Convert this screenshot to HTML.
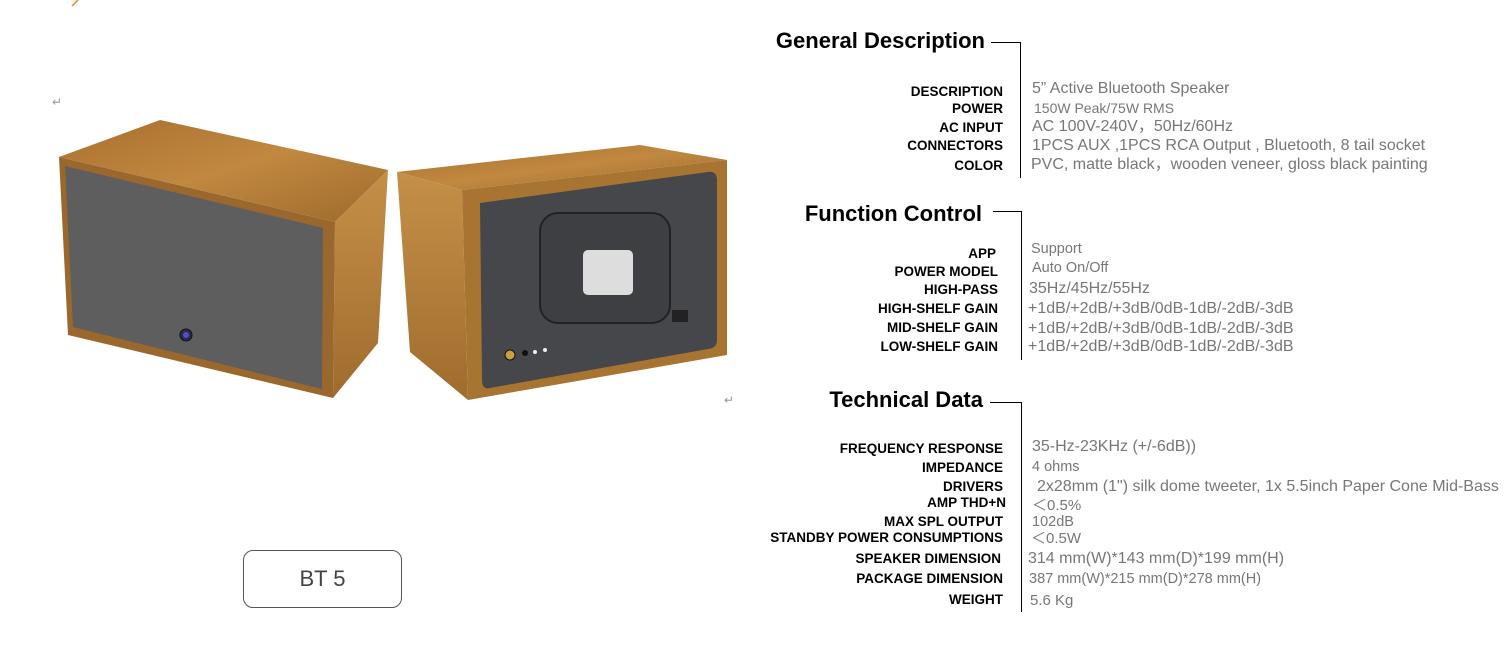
<!DOCTYPE html>
<html><head><meta charset="utf-8"><style>
body{margin:0;width:1507px;height:663px;background:#fff;position:relative;overflow:hidden;font-family:"Liberation Sans",sans-serif}
.h{position:absolute;width:985px;left:0;text-align:right;font-weight:bold;font-size:22px;color:#000;white-space:nowrap;line-height:24px}
.l{position:absolute;left:0;width:1003px;text-align:right;font-weight:bold;font-size:13.5px;color:#000;white-space:nowrap;line-height:16px}
.v{position:absolute;font-size:16px;color:#777;white-space:nowrap;line-height:16px}
.ln{position:absolute;background:#000}
</style></head><body>
<svg width="740" height="420" style="position:absolute;left:0;top:0">
<defs>
<linearGradient id="w1" x1="0" y1="0" x2="1" y2="1"><stop offset="0" stop-color="#a8702e"/><stop offset="0.5" stop-color="#c08840"/><stop offset="1" stop-color="#9e6a2c"/></linearGradient>
<linearGradient id="w2" x1="0" y1="0" x2="0" y2="1"><stop offset="0" stop-color="#c49048"/><stop offset="1" stop-color="#a06c2e"/></linearGradient>
</defs>
<line x1="72" y1="6" x2="78" y2="0" stroke="#f08030" stroke-width="1.5"/>
<text x="52" y="106" font-size="12" fill="#999">↵</text>
<text x="724" y="404" font-size="12" fill="#999">↵</text>
<polygon points="59,157 160,120 388,170 335,222" fill="url(#w1)"/>
<polygon points="335,222 388,170 378,343 333,398" fill="url(#w2)"/>
<polygon points="59,157 335,222 333,398 68,335" fill="#9a682c"/>
<polygon points="65,166 323,228 322,389 73,327" fill="#5e5e5e"/>
<circle cx="186" cy="335" r="6" fill="#2a2a4a" stroke="#111"/>
<circle cx="186" cy="335" r="3" fill="#5050c0"/>
<polygon points="397,172 640,145 727,160 462,190" fill="url(#w1)"/>
<polygon points="397,172 462,190 468,400 410,352" fill="url(#w2)"/>
<polygon points="462,190 727,160 727,355 468,400" fill="#a87432"/>
<path d="M480,203 L708,172 Q717,171 717,180 L717,340 Q717,348 708,349 L490,388 Q482,390 482,380 Z" fill="#45474b"/>
<rect x="540" y="213" width="130" height="110" rx="18" fill="#3d3f43" stroke="#222" stroke-width="2"/>
<rect x="583" y="250" width="50" height="45" rx="5" fill="#ddd"/>
<circle cx="510" cy="355" r="5" fill="#c8a040" stroke="#111"/>
<circle cx="525" cy="353" r="3" fill="#111"/>
<circle cx="535" cy="352" r="2" fill="#eee"/>
<circle cx="545" cy="350" r="2" fill="#eee"/>
<rect x="672" y="310" width="16" height="12" fill="#222"/>
</svg>
<div style="position:absolute;left:243px;top:550px;width:157px;height:56px;border:1px solid #555;border-radius:10px;text-align:center;line-height:56px;font-size:22px;color:#444">BT 5</div>

<div class="h" style="top:29px">General Description</div>
<div class="ln" style="left:991px;top:42px;width:30px;height:1px"></div>
<div class="ln" style="left:1020px;top:42px;width:1px;height:136px"></div>
<div class="l" style="top:84px">DESCRIPTION</div><div class="v" style="left:1032px;top:81px">5” Active Bluetooth Speaker</div>
<div class="l" style="top:101px">POWER</div><div class="v" style="left:1034px;top:100px;font-size:14px">150W Peak/75W RMS</div>
<div class="l" style="top:120px">AC INPUT</div><div class="v" style="left:1032px;top:119px">AC 100V-240V，50Hz/60Hz</div>
<div class="l" style="top:138px">CONNECTORS</div><div class="v" style="left:1032px;top:138px">1PCS AUX ,1PCS RCA Output , Bluetooth, 8 tail socket</div>
<div class="l" style="top:158px">COLOR</div><div class="v" style="left:1031px;top:157px">PVC, matte black，wooden veneer, gloss black painting</div>

<div class="h" style="top:202px;width:982px">Function Control</div>
<div class="ln" style="left:993px;top:211px;width:29px;height:1px"></div>
<div class="ln" style="left:1021px;top:211px;width:1px;height:149px"></div>
<div class="l" style="top:246px;width:996px">APP</div><div class="v" style="left:1031px;top:241px;font-size:14.5px">Support</div>
<div class="l" style="top:264px;width:998px">POWER MODEL</div><div class="v" style="left:1032px;top:260px;font-size:14.5px">Auto On/Off</div>
<div class="l" style="top:282px;width:998px">HIGH-PASS</div><div class="v" style="left:1029px;top:281px">35Hz/45Hz/55Hz</div>
<div class="l" style="top:301px;width:998px">HIGH-SHELF GAIN</div><div class="v" style="left:1028px;top:301px">+1dB/+2dB/+3dB/0dB-1dB/-2dB/-3dB</div>
<div class="l" style="top:320px;width:998px">MID-SHELF GAIN</div><div class="v" style="left:1028px;top:321px">+1dB/+2dB/+3dB/0dB-1dB/-2dB/-3dB</div>
<div class="l" style="top:339px;width:998px">LOW-SHELF GAIN</div><div class="v" style="left:1028px;top:339px">+1dB/+2dB/+3dB/0dB-1dB/-2dB/-3dB</div>

<div class="h" style="top:388px;width:983px">Technical Data</div>
<div class="ln" style="left:990px;top:402px;width:32px;height:1px"></div>
<div class="ln" style="left:1021px;top:402px;width:1px;height:210px"></div>
<div class="l" style="top:441px">FREQUENCY RESPONSE</div><div class="v" style="left:1032px;top:439px">35-Hz-23KHz (+/-6dB))</div>
<div class="l" style="top:460px">IMPEDANCE</div><div class="v" style="left:1032px;top:459px;font-size:14.5px">4 ohms</div>
<div class="l" style="top:479px">DRIVERS</div><div class="v" style="left:1037px;top:479px">2x28mm (1") silk dome tweeter, 1x 5.5inch Paper Cone Mid-Bass</div>
<div class="l" style="top:495px;width:1006px">AMP THD+N</div><div class="v" style="left:1032px;top:498px;font-size:15px">＜0.5%</div>
<div class="l" style="top:514px">MAX SPL OUTPUT</div><div class="v" style="left:1032px;top:514px;font-size:14.5px">102dB</div>
<div class="l" style="top:530px">STANDBY POWER CONSUMPTIONS</div><div class="v" style="left:1031px;top:531px;font-size:15px">＜0.5W</div>
<div class="l" style="top:551px;width:1001px">SPEAKER DIMENSION</div><div class="v" style="left:1028px;top:551px">314 mm(W)*143 mm(D)*199 mm(H)</div>
<div class="l" style="top:571px">PACKAGE DIMENSION</div><div class="v" style="left:1029px;top:571px;font-size:14.5px">387 mm(W)*215 mm(D)*278 mm(H)</div>
<div class="l" style="top:592px">WEIGHT</div><div class="v" style="left:1030px;top:593px;font-size:15px">5.6 Kg</div>
</body></html>
